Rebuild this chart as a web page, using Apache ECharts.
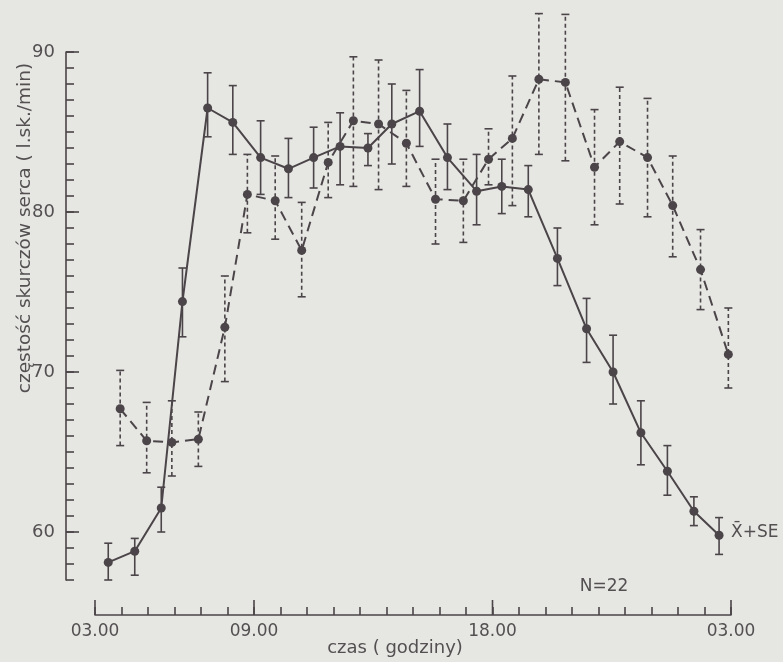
<!DOCTYPE html>
<html lang="pl">
<head>
<meta charset="utf-8">
<title>częstość skurczów serca</title>
<style>
html, body { margin: 0; padding: 0; background: #e6e6e3; }
#container { width: 783px; height: 662px; }
</style>
</head>
<body>
<div id="container"></div>
<script src="https://cdn.jsdelivr.net/npm/echarts@6/dist/echarts.min.js"></script>
<script>
// solid line series (time in hours after 03.00)
var solidHours = [0.5, 1.5, 2.5, 3.3, 4.25, 5.2, 6.25, 7.3, 8.25, 9.25, 10.3, 11.2,
                  12.25, 13.3, 14.4, 15.35, 16.35, 17.45, 18.55, 19.55, 20.6, 21.6, 22.6, 23.55];
var solidMean = [58.1, 58.8, 61.5, 74.4, 86.5, 85.6, 83.4, 82.7, 83.4, 84.1, 84.0, 85.5,
                 86.3, 83.4, 81.3, 81.6, 81.4, 77.1, 72.7, 70.0, 66.2, 63.8, 61.3, 59.8];
var solidLow  = [57.0, 57.3, 60.0, 72.2, 84.7, 83.6, 81.1, 80.9, 81.5, 81.7, 82.9, 83.0,
                 84.1, 81.4, 79.2, 79.9, 79.7, 75.4, 70.6, 68.0, 64.2, 62.3, 60.4, 58.6];
var solidHigh = [59.3, 59.6, 62.8, 76.5, 88.7, 87.9, 85.7, 84.6, 85.3, 86.2, 84.9, 88.0,
                 88.9, 85.5, 83.6, 83.3, 82.9, 79.0, 74.6, 72.3, 68.2, 65.4, 62.2, 60.9];

// dashed line series
var dashedHours = [0.95, 1.95, 2.9, 3.9, 4.9, 5.75, 6.8, 7.8, 8.8, 9.75, 10.7, 11.75,
                   12.85, 13.9, 14.85, 15.75, 16.75, 17.75, 18.85, 19.8, 20.85, 21.8, 22.85, 23.9];
var dashedMean = [67.7, 65.7, 65.6, 65.8, 72.8, 81.1, 80.7, 77.6, 83.1, 85.7, 85.5, 84.3,
                  80.8, 80.7, 83.3, 84.6, 88.3, 88.1, 82.8, 84.4, 83.4, 80.4, 76.4, 71.1];
var dashedLow  = [65.4, 63.7, 63.5, 64.1, 69.4, 78.7, 78.3, 74.7, 80.9, 81.6, 81.4, 81.6,
                  78.0, 78.1, 81.7, 80.4, 83.6, 83.2, 79.2, 80.5, 79.7, 77.2, 73.9, 69.0];
var dashedHigh = [70.1, 68.1, 68.2, 67.5, 76.0, 83.6, 83.5, 80.6, 85.6, 89.7, 89.5, 87.6,
                  83.3, 83.3, 85.2, 88.5, 92.4, 92.35, 86.4, 87.8, 87.1, 83.5, 78.9, 74.0];

var xTickHours  = [0, 6, 15, 24];
var xTickLabels = ['03.00', '09.00', '18.00', '03.00'];
var yTickValues = [60, 70, 80, 90];

var ink = '#4b4448';
var textColor = '#545052';
var font = '"DejaVu Sans", sans-serif';

var yMin = 57, yMax = 90;
var yOffset = 29, xOffset = 35;

function pairs(xs, ys) {
  return xs.map(function (x, i) { return [x, ys[i]]; });
}
function triples(xs, lo, hi) {
  return xs.map(function (x, i) { return [x, lo[i], hi[i]]; });
}

function errorBars(dashed) {
  return function (params, api) {
    var x = api.value(0);
    var lo = api.coord([x, api.value(1)]);
    var hi = api.coord([x, api.value(2)]);
    var w = 4;
    var barStyle = { stroke: ink, lineWidth: 1.6 };
    if (dashed) barStyle.lineDash = [4, 3];
    var capStyle = { stroke: ink, lineWidth: 1.6 };
    return {
      type: 'group',
      children: [
        { type: 'line', shape: { x1: lo[0], y1: lo[1], x2: hi[0], y2: hi[1] }, style: barStyle },
        { type: 'line', shape: { x1: lo[0] - w, y1: lo[1], x2: lo[0] + w, y2: lo[1] }, style: capStyle },
        { type: 'line', shape: { x1: hi[0] - w, y1: hi[1], x2: hi[0] + w, y2: hi[1] }, style: capStyle }
      ]
    };
  };
}

var chart = echarts.init(document.getElementById('container'));

var option = {
  backgroundColor: '#e6e6e3',
  animation: false,
  grid: { left: 95, right: 52, top: 52, bottom: 82 },
  xAxis: {
    type: 'value', min: 0, max: 24, interval: 1, offset: xOffset,
    axisLine: { onZero: false, lineStyle: { color: ink, width: 1.6 } },
    axisTick: { inside: true, length: 8, lineStyle: { color: ink, width: 1.6 } },
    splitLine: { show: false },
    axisLabel: {
      margin: 8, color: textColor, fontSize: 17, fontFamily: font,
      formatter: function (v) {
        var i = xTickHours.indexOf(v);
        return i >= 0 ? xTickLabels[i] : '';
      }
    }
  },
  yAxis: {
    type: 'value', min: yMin, max: yMax, interval: 1, offset: yOffset,
    axisLine: { show: true, onZero: false, lineStyle: { color: ink, width: 1.6 } },
    axisTick: { show: true, inside: true, length: 8, lineStyle: { color: ink, width: 1.6 } },
    splitLine: { show: false },
    axisLabel: {
      margin: 11, color: textColor, fontSize: 18, fontFamily: font,
      formatter: function (v) { return yTickValues.indexOf(v) >= 0 ? String(v) : ''; }
    }
  },
  graphic: [
    { type: 'text', x: 25, y: 228, rotation: Math.PI / 2,
      style: { text: 'częstość skurczów serca ( l.sk./min)', font: '18.5px ' + font, fill: textColor,
               align: 'center', verticalAlign: 'middle' } },
    { type: 'text', x: 395, y: 648,
      style: { text: 'czas ( godziny)', font: '18px ' + font, fill: textColor,
               align: 'center', verticalAlign: 'middle' } },
    { type: 'text', x: 604, y: 587,
      style: { text: 'N=22', font: '17px ' + font, fill: textColor,
               align: 'center', verticalAlign: 'middle' } },
    { type: 'text', x: 731, y: 533,
      style: { text: 'X\u0304+SE', font: '17px ' + font, fill: textColor,
               align: 'left', verticalAlign: 'middle' } }
  ],
  series: [
    {
      name: 'yMajorTicks', type: 'custom', clip: false, silent: true,
      data: yTickValues.map(function (v) { return [0, v]; }),
      renderItem: function (params, api) {
        var p = api.coord([0, api.value(1)]);
        var x = p[0] - yOffset;
        return { type: 'line', shape: { x1: x, y1: p[1], x2: x + 13, y2: p[1] },
                 style: { stroke: ink, lineWidth: 1.6 } };
      }
    },
    {
      name: 'xMajorTicks', type: 'custom', clip: false, silent: true,
      data: xTickHours.map(function (h) { return [h, yMin]; }),
      renderItem: function (params, api) {
        var p = api.coord([api.value(0), yMin]);
        var y = p[1] + xOffset;
        return { type: 'line', shape: { x1: p[0], y1: y, x2: p[0], y2: y - 15 },
                 style: { stroke: ink, lineWidth: 1.6 } };
      }
    },
    {
      name: 'solidErr', type: 'custom', clip: false, silent: true,
      data: triples(solidHours, solidLow, solidHigh),
      renderItem: errorBars(false), z: 2
    },
    {
      name: 'dashedErr', type: 'custom', clip: false, silent: true,
      data: triples(dashedHours, dashedLow, dashedHigh),
      renderItem: errorBars(true), z: 2
    },
    {
      name: 'solid', type: 'line', clip: false, z: 3,
      data: pairs(solidHours, solidMean),
      symbol: 'circle', symbolSize: 9,
      itemStyle: { color: ink },
      lineStyle: { color: ink, width: 2 }
    },
    {
      name: 'dashed', type: 'line', clip: false, z: 3,
      data: pairs(dashedHours, dashedMean),
      symbol: 'circle', symbolSize: 9,
      itemStyle: { color: ink },
      lineStyle: { color: ink, width: 2, type: [10, 6] }
    }
  ]
};

chart.setOption(option);
</script>
</body>
</html>
